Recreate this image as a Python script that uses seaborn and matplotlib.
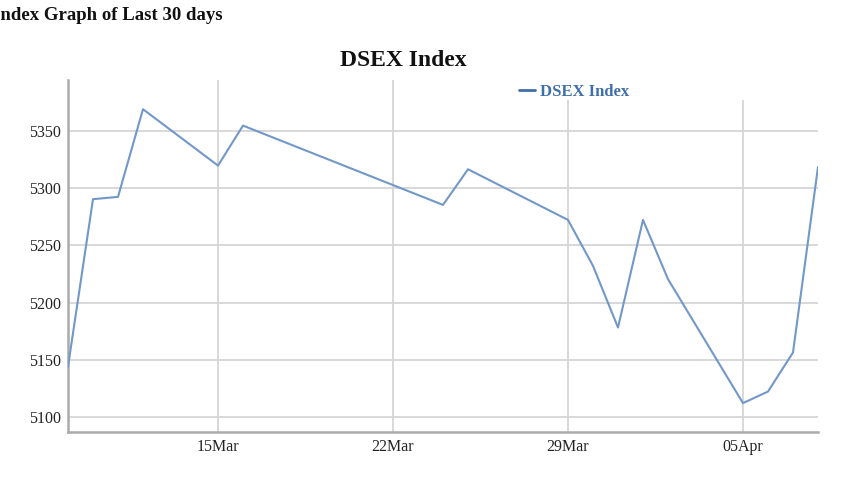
import matplotlib
matplotlib.use("Agg")
import matplotlib.pyplot as plt
import matplotlib.dates as mdates
from matplotlib.patches import Rectangle
import seaborn as sns
import pandas as pd

dates = ["2021-03-09", "2021-03-10", "2021-03-11", "2021-03-12", "2021-03-15",
         "2021-03-16", "2021-03-24", "2021-03-25", "2021-03-29", "2021-03-30",
         "2021-03-31", "2021-04-01", "2021-04-02", "2021-04-05", "2021-04-06",
         "2021-04-07", "2021-04-08"]
values = [5144.0, 5290.2, 5292.2, 5368.7, 5319.5,
          5354.4, 5285.2, 5316.3, 5272.1, 5232.0,
          5178.2, 5272.1, 5220.4, 5112.2, 5122.3,
          5156.4, 5318.3]
ytick_values = [5100, 5150, 5200, 5250, 5300, 5350]
xtick_dates = ["2021-03-15", "2021-03-22", "2021-03-29", "2021-04-05"]
series_name = "DSEX Index"
chart_title = "DSEX Index"
page_title = "Index Graph of Last 30 days"

sns.set_theme(style="white")
plt.rcParams['font.family'] = ['Liberation Serif', 'DejaVu Serif']

W, H = 857, 482
top, bottom, left, right = 80, 432, 68, 818
fig = plt.figure(figsize=(W / 100, H / 100), dpi=100)
ax = fig.add_axes([left / W, 1 - bottom / H, (right - left) / W, (bottom - top) / H])
ah = bottom - top
aw = right - left

df = pd.DataFrame({"date": pd.to_datetime(dates), "value": values})
sns.lineplot(data=df, x="date", y="value", ax=ax, color="#7198c8",
             linewidth=1.5, label=series_name, zorder=3)

ax.set_xlim(pd.Timestamp("2021-03-09"), pd.Timestamp("2021-04-08"))
ax.set_ylim(5087, 5394.2)
ax.set_yticks(ytick_values)
ax.set_xticks(pd.to_datetime(xtick_dates))
ax.xaxis.set_major_formatter(mdates.DateFormatter("%d%b"))
ax.set_xlabel("")
ax.set_ylabel("")
ax.grid(True, color="#d6d6d6", linewidth=1.3, zorder=0)
ax.set_axisbelow(True)
ax.tick_params(axis="both", length=0, labelsize=11.5, colors="#222222", pad=5)
for s in ["top", "right"]:
    ax.spines[s].set_visible(False)
for s in ["left", "bottom"]:
    ax.spines[s].set_color("#ababab")
    ax.spines[s].set_linewidth(1.8)

# white band behind the legend (covers gridlines as in the reference)
ax.add_patch(Rectangle(((512 - left) / aw, 1 - 20 / ah), (765 - 512) / aw, 20 / ah,
                       transform=ax.transAxes, facecolor="white", edgecolor="none",
                       zorder=1.5, clip_on=False))

leg = ax.legend(loc="center left", bbox_to_anchor=((507 - left) / aw, 1 - 12 / ah),
                frameon=False, handlelength=1.0, handletextpad=0.3, borderpad=0.2,
                prop={"weight": "bold", "size": 12})
for t in leg.get_texts():
    t.set_color("#3f6fa8")
for l in leg.get_lines():
    l.set_color("#3f6fa8")
    l.set_linewidth(2)

fig.text(403 / W, 1 - 61 / H, chart_title, ha="center", va="center",
         fontsize=17, fontweight="bold", color="#111111")
fig.text(-7 / W, 1 - 16 / H, page_title, ha="left", va="center",
         fontsize=13.5, fontweight="bold", color="#111111")

fig.savefig("out.png", dpi=100, facecolor="white")
